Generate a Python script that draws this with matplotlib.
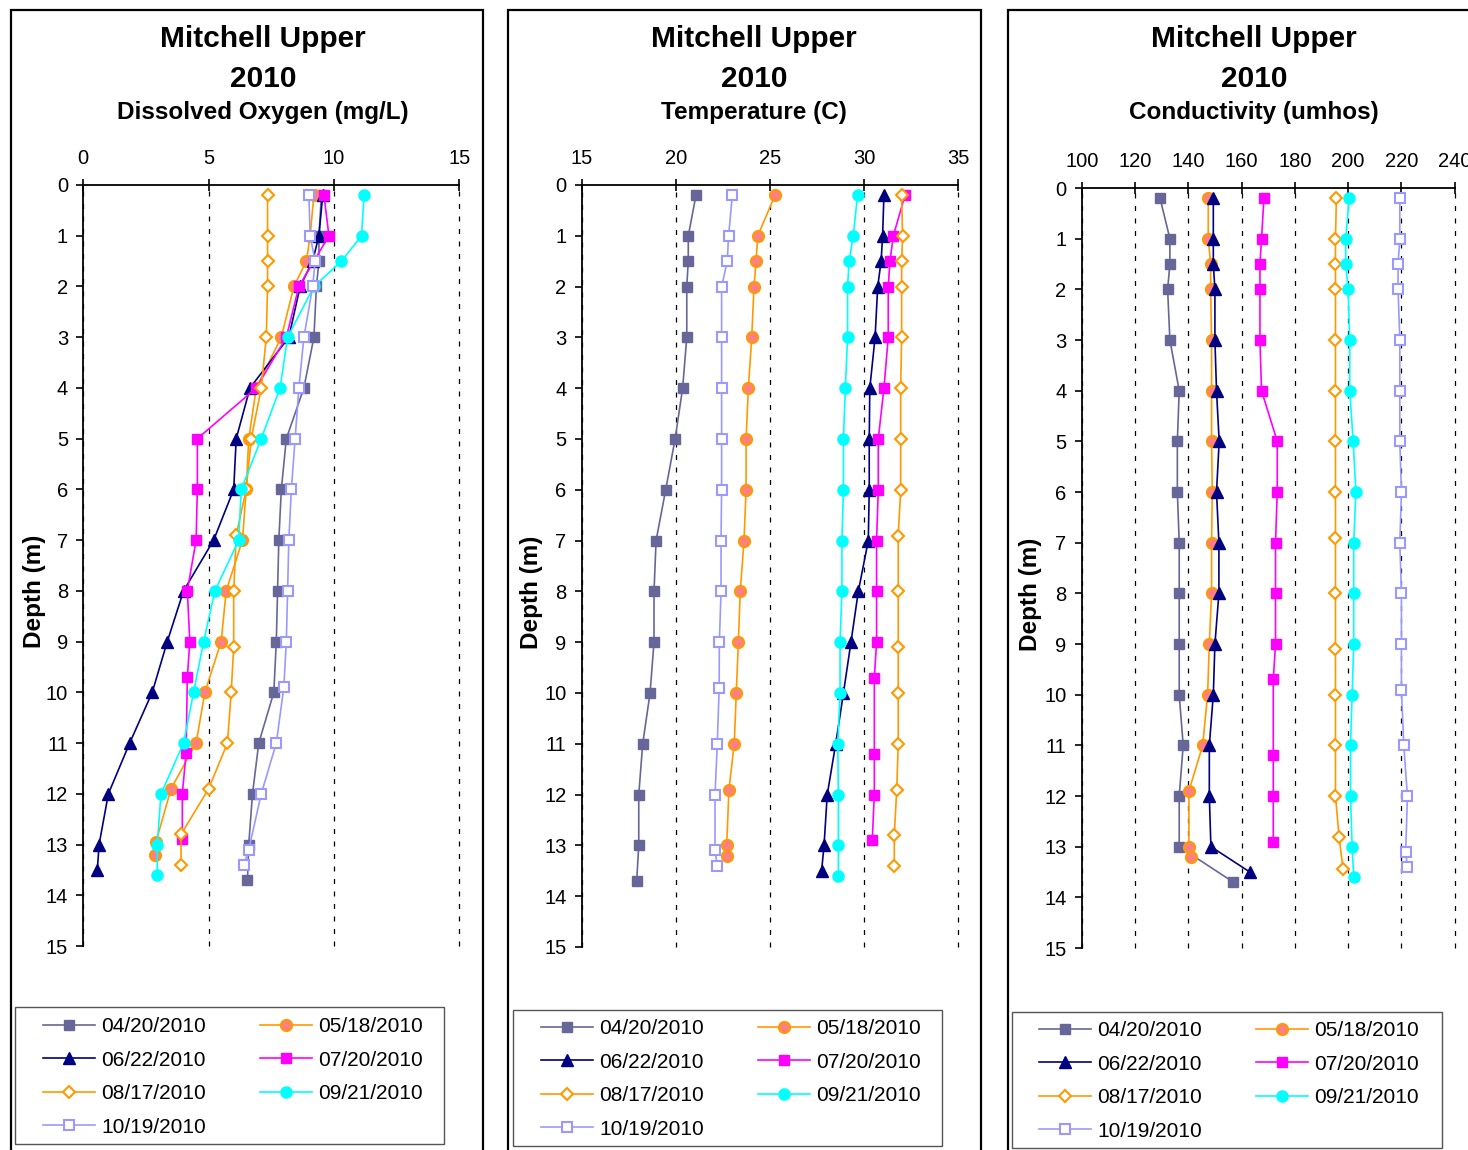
import matplotlib
matplotlib.use("Agg")
import matplotlib.pyplot as plt
from matplotlib.patches import Rectangle

plt.rcParams['font.family'] = ['Liberation Sans', 'DejaVu Sans']

# ============================
# Data (depth in m, one list per sampling date)
# ============================

dates = ["04/20/2010", "05/18/2010", "06/22/2010", "07/20/2010",
         "08/17/2010", "09/21/2010", "10/19/2010"]

# Dissolved Oxygen (mg/L)
do_depth_0420 = [0.2, 1, 1.5, 2, 3, 4, 5, 6, 7, 8, 9, 10, 11, 12, 13, 13.7]
do_0420 = [9.5, 9.4, 9.4, 9.3, 9.2, 8.8, 8.1, 7.9, 7.8, 7.75, 7.7, 7.6, 7.0, 6.75, 6.6, 6.55]
do_depth_0518 = [0.2, 1, 1.5, 2, 3, 4, 5, 6, 7, 8, 9, 10, 11, 11.9, 12.95, 13.2]
do_0518 = [9.2, 9.05, 8.9, 8.4, 7.9, 6.9, 6.6, 6.5, 6.35, 5.7, 5.5, 4.85, 4.5, 3.5, 2.9, 2.85]
do_depth_0622 = [0.2, 1, 1.5, 2, 3, 4, 5, 6, 7, 8, 9, 10, 11, 12, 13, 13.5]
do_0622 = [9.55, 9.4, 9.15, 8.65, 8.2, 6.65, 6.1, 6.0, 5.2, 4.0, 3.35, 2.75, 1.85, 1.0, 0.63, 0.56]
do_depth_0720 = [0.2, 1, 1.5, 2, 3, 4, 5, 6, 7, 8, 9, 9.7, 11.2, 12, 12.9]
do_0720 = [9.6, 9.8, 9.2, 8.6, 8.1, 6.9, 4.55, 4.55, 4.5, 4.15, 4.25, 4.15, 4.1, 3.95, 3.95]
do_depth_0817 = [0.2, 1, 1.5, 2, 3, 4, 5, 6, 6.9, 8, 9.1, 10, 11, 11.9, 12.8, 13.4]
do_0817 = [7.35, 7.35, 7.35, 7.35, 7.3, 7.1, 6.7, 6.5, 6.1, 6.0, 6.0, 5.9, 5.75, 5.0, 3.9, 3.9]
do_depth_0921 = [0.2, 1, 1.5, 2, 3, 4, 5, 6, 7, 8, 9, 10, 11, 12, 13, 13.6]
do_0921 = [11.2, 11.1, 10.3, 9.2, 8.15, 7.85, 7.1, 6.3, 6.2, 5.25, 4.8, 4.4, 4.0, 3.1, 2.95, 2.95]
do_depth_1019 = [0.2, 1, 1.5, 2, 3, 4, 5, 6, 7, 8, 9, 9.9, 11, 12, 13.1, 13.4]
do_1019 = [9.0, 9.05, 9.25, 9.15, 8.8, 8.6, 8.45, 8.3, 8.2, 8.15, 8.1, 8.0, 7.7, 7.1, 6.6, 6.4]

# Temperature (C)
t_depth_0420 = [0.2, 1, 1.5, 2, 3, 4, 5, 6, 7, 8, 9, 10, 11, 12, 13, 13.7]
t_0420 = [21.07, 20.66, 20.66, 20.58, 20.58, 20.36, 19.96, 19.46, 18.95, 18.84, 18.84, 18.63, 18.24, 18.03, 18.03, 17.92]
t_depth_0518 = [0.2, 1, 1.5, 2, 3, 4, 5, 6, 7, 8, 9, 10, 11, 11.9, 13, 13.2]
t_0518 = [25.27, 24.35, 24.26, 24.15, 24.03, 23.85, 23.73, 23.73, 23.62, 23.42, 23.32, 23.21, 23.1, 22.82, 22.7, 22.7]
t_depth_0622 = [0.2, 1, 1.5, 2, 3, 4, 5, 6, 7, 8, 9, 10, 11, 12, 13, 13.5]
t_0622 = [31.05, 30.98, 30.9, 30.72, 30.58, 30.3, 30.27, 30.27, 30.22, 29.69, 29.3, 28.9, 28.49, 28.04, 27.87, 27.74]
t_depth_0720 = [0.2, 1, 1.5, 2, 3, 4, 5, 6, 7, 8, 9, 9.7, 11.2, 12, 12.9]
t_0720 = [32.17, 31.55, 31.37, 31.28, 31.28, 31.05, 30.75, 30.75, 30.66, 30.66, 30.66, 30.54, 30.54, 30.54, 30.43]
t_depth_0817 = [0.2, 1, 1.5, 2, 3, 4, 5, 6, 6.9, 8, 9.1, 10, 11, 11.9, 12.8, 13.4]
t_0817 = [31.99, 32.04, 31.99, 31.99, 31.99, 31.94, 31.94, 31.94, 31.81, 31.81, 31.81, 31.81, 31.81, 31.73, 31.6, 31.6]
t_depth_0921 = [0.2, 1, 1.5, 2, 3, 4, 5, 6, 7, 8, 9, 10, 11, 12, 13, 13.6]
t_0921 = [29.65, 29.42, 29.2, 29.12, 29.12, 29.0, 28.9, 28.9, 28.82, 28.82, 28.72, 28.72, 28.6, 28.63, 28.63, 28.63]
t_depth_1019 = [0.2, 1, 1.5, 2, 3, 4, 5, 6, 7, 8, 9, 9.9, 11, 12, 13.1, 13.4]
t_1019 = [23.0, 22.8, 22.73, 22.43, 22.43, 22.43, 22.43, 22.43, 22.4, 22.4, 22.31, 22.3, 22.2, 22.08, 22.08, 22.2]

# Conductivity (umhos)
c_depth_0420 = [0.2, 1, 1.5, 2, 3, 4, 5, 6, 7, 8, 9, 10, 11, 12, 13, 13.7]
c_0420 = [129.4, 133.1, 133.1, 132.25, 133.1, 136.6, 135.9, 135.9, 136.6, 136.6, 136.6, 136.6, 138.1, 136.6, 136.6, 156.9]
c_depth_0518 = [0.2, 1, 1.5, 2, 3, 4, 5, 6, 7, 8, 9, 10, 11, 11.9, 13, 13.2]
c_0518 = [147.5, 147.5, 148.4, 148.4, 148.75, 148.75, 148.75, 149.0, 148.75, 148.75, 147.9, 147.25, 145.4, 140.25, 140.25, 141.0]
c_depth_0622 = [0.2, 1, 1.5, 2, 3, 4, 5, 6, 7, 8, 9, 10, 11, 12, 13, 13.5]
c_0622 = [149.4, 149.4, 149.4, 150.0, 150.0, 150.6, 151.6, 150.6, 151.5, 151.5, 150.0, 149.4, 147.9, 147.9, 148.5, 163.1]
c_depth_0720 = [0.2, 1, 1.5, 2, 3, 4, 5, 6, 7, 8, 9, 9.7, 11.2, 12, 12.9]
c_0720 = [168.4, 167.5, 166.9, 166.9, 166.9, 167.5, 173.4, 173.4, 172.75, 172.75, 172.75, 171.9, 171.9, 171.9, 171.9]
c_depth_0817 = [0.2, 1, 1.5, 2, 3, 4, 5, 6, 6.9, 8, 9.1, 10, 11, 12, 12.8, 13.45]
c_0817 = [195.6, 195.25, 195.25, 195.25, 195.25, 195.25, 195.25, 195.25, 195.25, 195.25, 195.25, 195.25, 195.25, 195.25, 196.6, 198.1]
c_depth_0921 = [0.2, 1, 1.5, 2, 3, 4, 5, 6, 7, 8, 9, 10, 11, 12, 13, 13.6]
c_0921 = [200.4, 199.1, 199.1, 200.0, 200.6, 200.6, 201.9, 202.9, 202.1, 202.1, 202.1, 201.5, 200.9, 200.9, 201.5, 202.1]
c_depth_1019 = [0.2, 1, 1.5, 2, 3, 4, 5, 6, 7, 8, 9, 9.9, 11, 12, 13.1, 13.4]
c_1019 = [219.4, 219.4, 218.75, 218.75, 219.4, 219.4, 219.4, 220.0, 219.4, 220.0, 220.0, 220.0, 220.9, 222.25, 221.6, 222.25]

do_ticks = [0, 5, 10, 15]
t_ticks = [15, 20, 25, 30, 35]
c_ticks = [100, 120, 140, 160, 180, 200, 220, 240]
depth_ticks = list(range(0, 16))

# ============================
# Styles
# ============================

styles = [
    dict(color="#666699", marker="s", ms=7.5, mfc="#666699", mec="#666699"),
    dict(color="#FF9900", marker="o", ms=8, mfc="#FF8080", mec="#FF9900", mew=1.5),
    dict(color="#000080", marker="^", ms=9, mfc="#000080", mec="#000080"),
    dict(color="#FF00FF", marker="s", ms=7.5, mfc="#FF00FF", mec="#FF00FF"),
    dict(color="#FF9900", marker="D", ms=6.5, mfc="white", mec="#FF9900", mew=1.5),
    dict(color="#00FFFF", marker="o", ms=8, mfc="#00FFFF", mec="#00FFFF"),
    dict(color="#9999FF", marker="s", ms=7.5, mfc="white", mec="#9999FF", mew=1.5),
]

W, H = 1468, 1150
fig = plt.figure(figsize=(W / 100, H / 100), dpi=100)


def fx(px):
    return px / W


def fy(py):
    return 1 - py / H


def panel(box, cx, axpos, subtitle, xticks, series, legpos, legbox, ylab_x):
    # outer chart border
    fig.add_artist(Rectangle((fx(box[0]), -0.05), fx(box[1] - box[0]), fy(box[2]) + 0.05,
                             transform=fig.transFigure, fill=False, lw=1.6,
                             edgecolor="black", clip_on=False))
    fig.text(fx(cx), fy(39), "Mitchell Upper", ha="center", va="center",
             fontsize=21.5, fontweight="bold")
    fig.text(fx(cx), fy(79), "2010", ha="center", va="center",
             fontsize=21.5, fontweight="bold")
    fig.text(fx(cx), fy(113), subtitle, ha="center", va="center",
             fontsize=17.5, fontweight="bold")

    l, r, t, b = axpos
    ax = fig.add_axes([fx(l), fy(b), fx(r - l), fy(t) - fy(b)])
    lines = []
    for (d, v), st, lab in zip(series, styles, dates):
        ln, = ax.plot(v, d, lw=1.2, label=lab, clip_on=False, **st)
        lines.append(ln)

    ax.set_xlim(xticks[0], xticks[-1])
    ax.set_ylim(15, 0)
    ax.set_xticks(xticks)
    ax.set_yticks(depth_ticks)
    ax.xaxis.tick_top()
    ax.spines["right"].set_visible(False)
    ax.spines["bottom"].set_visible(False)
    for s in ("top", "left"):
        ax.spines[s].set_linewidth(1.3)
    ax.tick_params(axis="x", direction="inout", length=8, width=1.2,
                   labelsize=14.5, pad=8)
    ax.tick_params(axis="y", direction="out", length=5, width=1.2,
                   labelsize=14.5, pad=6)
    ax.xaxis.grid(True, color="black", linestyle=(0, (4, 6)), linewidth=0.9)
    for gl in ax.get_xgridlines():
        gl.set_clip_on(False)
    ax.set_ylabel("Depth (m)", fontsize=17.5, fontweight="bold")
    ax.yaxis.set_label_coords(ylab_x, 0.466)

    order = [0, 2, 4, 6, 1, 3, 5]
    fig.add_artist(Rectangle((fx(legbox[0]), fy(legbox[3])), fx(legbox[2] - legbox[0]),
                             fy(legbox[1]) - fy(legbox[3]), transform=fig.transFigure,
                             fill=False, lw=1.0, edgecolor="#555555"))
    ax.legend([lines[i] for i in order], [dates[i] for i in order],
              loc="upper left", bbox_to_anchor=(fx(legpos[0]), fy(legpos[1])),
              bbox_transform=fig.transFigure, ncol=2, frameon=False,
              fontsize=15, borderpad=0, borderaxespad=0, handlelength=2.5,
              handletextpad=0.3, columnspacing=2.6, labelspacing=0.7, numpoints=1)
    return ax


# ============================
# Panels
# ============================

panel((11, 483, 10), 263, (83.3, 459.3, 185, 946), "Dissolved Oxygen (mg/L)", do_ticks,
      [(do_depth_0420, do_0420), (do_depth_0518, do_0518), (do_depth_0622, do_0622),
       (do_depth_0720, do_0720), (do_depth_0817, do_0817), (do_depth_0921, do_0921),
       (do_depth_1019, do_1019)],
      (43, 1017), (15, 1007, 444, 1144), -0.099)

panel((508, 981, 10), 754, (581.7, 958.3, 185, 947), "Temperature (C)", t_ticks,
      [(t_depth_0420, t_0420), (t_depth_0518, t_0518), (t_depth_0622, t_0622),
       (t_depth_0720, t_0720), (t_depth_0817, t_0817), (t_depth_0921, t_0921),
       (t_depth_1019, t_1019)],
      (541, 1019), (513, 1010, 942, 1146), -0.103)

panel((1008, 1520, 10), 1254, (1081.7, 1454.7, 188, 948), "Conductivity (umhos)", c_ticks,
      [(c_depth_0420, c_0420), (c_depth_0518, c_0518), (c_depth_0622, c_0622),
       (c_depth_0720, c_0720), (c_depth_0817, c_0817), (c_depth_0921, c_0921),
       (c_depth_1019, c_1019)],
      (1039, 1021), (1012, 1012, 1442, 1148), -0.106)

fig.savefig("out.png", dpi=100)
